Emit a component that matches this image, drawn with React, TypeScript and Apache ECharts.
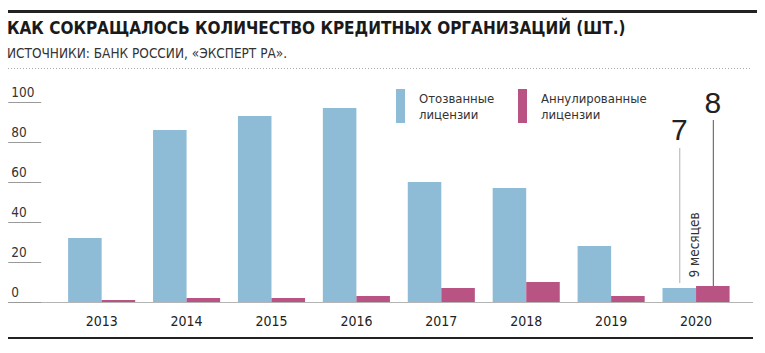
import React, { useEffect, useRef } from "react";
import * as echarts from "echarts";

const years = ["2013", "2014", "2015", "2016", "2017", "2018", "2019", "2020"];
const revoked = [32, 86, 93, 97, 60, 57, 28, 7];
const annulled = [1, 2, 2, 3, 7, 10, 3, 8];
const seriesNames = ["Отозванные\nлицензии", "Аннулированные\nлицензии"];
const yMin = 0;
const yMax = 100;
const yStep = 20;
const titleText = "КАК СОКРАЩАЛОСЬ КОЛИЧЕСТВО КРЕДИТНЫХ ОРГАНИЗАЦИЙ (ШТ.)";
const subtitleText = "ИСТОЧНИКИ: БАНК РОССИИ, «ЭКСПЕРТ РА».";
const noteText = "9 месяцев";

const NARROW = "'Liberation Sans Narrow', 'DejaVu Sans Condensed', 'Roboto', sans-serif";
const BLUE = "#8ebcd7";
const MAGENTA = "#b95384";

export default function App() {
  const ref = useRef<HTMLDivElement>(null);
  useEffect(() => {
    if (!ref.current) return;
    const chart = echarts.init(ref.current, undefined, { renderer: "svg" });
    const legendText = { fontFamily: NARROW, fontSize: 13, lineHeight: 16, color: "#333", padding: [0, 0, 0, 9] };
    const option: any = {
      animation: false,
      backgroundColor: "#ffffff",
      title: [
        {
          text: titleText,
          left: 7,
          top: 19,
          padding: 0,
          textStyle: { fontFamily: NARROW, fontWeight: "bold", fontSize: 17, color: "#1a1a1a" },
        },
        {
          text: subtitleText,
          left: 7,
          top: 46,
          padding: 0,
          textStyle: { fontFamily: NARROW, fontWeight: "normal", fontSize: 13.5, color: "#333" },
        },
      ],
      legend: [
        {
          data: [seriesNames[0]],
          left: 396,
          top: 89,
          padding: 0,
          itemWidth: 9,
          itemHeight: 34,
          icon: "rect",
          textStyle: legendText,
        },
        {
          data: [seriesNames[1]],
          left: 518,
          top: 89,
          padding: 0,
          itemWidth: 9,
          itemHeight: 34,
          icon: "rect",
          textStyle: legendText,
        },
      ],
      grid: { left: 59.2, right: 26.5, top: 102, bottom: 51 },
      xAxis: {
        type: "category",
        data: years,
        axisLine: { show: false },
        axisTick: { show: false },
        axisLabel: { fontFamily: NARROW, fontSize: 14, color: "#222", margin: 12 },
      },
      yAxis: {
        type: "value",
        min: yMin,
        max: yMax,
        interval: yStep,
        offset: 18,
        axisLine: { show: false },
        axisTick: { show: true, length: 33, lineStyle: { color: "#9a9a9a", width: 1 } },
        splitLine: { show: false },
        axisLabel: {
          fontFamily: NARROW,
          fontSize: 13.5,
          color: "#333",
          align: "left",
          verticalAlign: "bottom",
          margin: 30,
          padding: [0, 0, 3, 0],
        },
      },
      series: [
        {
          name: seriesNames[0],
          type: "bar",
          data: revoked,
          itemStyle: { color: BLUE },
          barGap: "0%",
          barCategoryGap: "21%",
        },
        {
          name: seriesNames[1],
          type: "bar",
          data: annulled,
          itemStyle: { color: MAGENTA },
          barGap: "0%",
          barCategoryGap: "21%",
        },
      ],
    };
    chart.setOption(option);

    const zeroY = chart.convertToPixel({ yAxisIndex: 0 }, 0) as number;
    const model = (chart as any).getModel();
    const last = years.length - 1;
    const lay0 = model.getSeriesByIndex(0).getData().getItemLayout(last);
    const lay1 = model.getSeriesByIndex(1).getData().getItemLayout(last);
    const cx0 = lay0.x + lay0.width / 2;
    const cx1 = lay1.x + lay1.width / 2;
    const top0 = Math.min(lay0.y, lay0.y + lay0.height);
    const top1 = Math.min(lay1.y, lay1.y + lay1.height);

    chart.setOption({
      graphic: [
        { type: "line", shape: { x1: 8, y1: 11.5, x2: 757, y2: 11.5 }, style: { stroke: "#222", lineWidth: 3 } },
        { type: "line", shape: { x1: 8, y1: 68.5, x2: 752, y2: 68.5 }, style: { stroke: "#aaa", lineWidth: 1, lineDash: [1, 2] } },
        { type: "line", shape: { x1: 8, y1: zeroY + 0.5, x2: 753, y2: zeroY + 0.5 }, style: { stroke: "#b5b5b5", lineWidth: 1 } },
        { type: "line", shape: { x1: 8, y1: 338, x2: 753, y2: 338 }, style: { stroke: "#222", lineWidth: 2 } },
        { type: "line", shape: { x1: cx0 + 0.5, y1: 148, x2: cx0 + 0.5, y2: top0 - 5 }, style: { stroke: "#b0b0b0", lineWidth: 1 } },
        { type: "line", shape: { x1: cx1 + 0.5, y1: 120, x2: cx1 + 0.5, y2: top1 }, style: { stroke: "#555", lineWidth: 1 } },
        {
          type: "text",
          x: cx0,
          y: 129,
          style: { text: String(revoked[last]), fontFamily: "'Liberation Sans', Arial, sans-serif", fontSize: 30, fill: "#222", align: "center", verticalAlign: "middle" },
        },
        {
          type: "text",
          x: cx1,
          y: 102,
          style: { text: String(annulled[last]), fontFamily: "'Liberation Sans', Arial, sans-serif", fontSize: 30, fill: "#222", align: "center", verticalAlign: "middle" },
        },
        {
          type: "text",
          x: cx0 + 15,
          y: 245,
          rotation: Math.PI / 2,
          style: { text: noteText, fontFamily: NARROW, fontSize: 13.5, fill: "#333", align: "center", verticalAlign: "middle" },
        },
      ],
    });

    return () => chart.dispose();
  }, []);
  return (
    <div
      ref={ref}
      style={{ position: "fixed", left: 0, top: 0, width: 765, height: 353, background: "#fff" }}
    />
  );
}
